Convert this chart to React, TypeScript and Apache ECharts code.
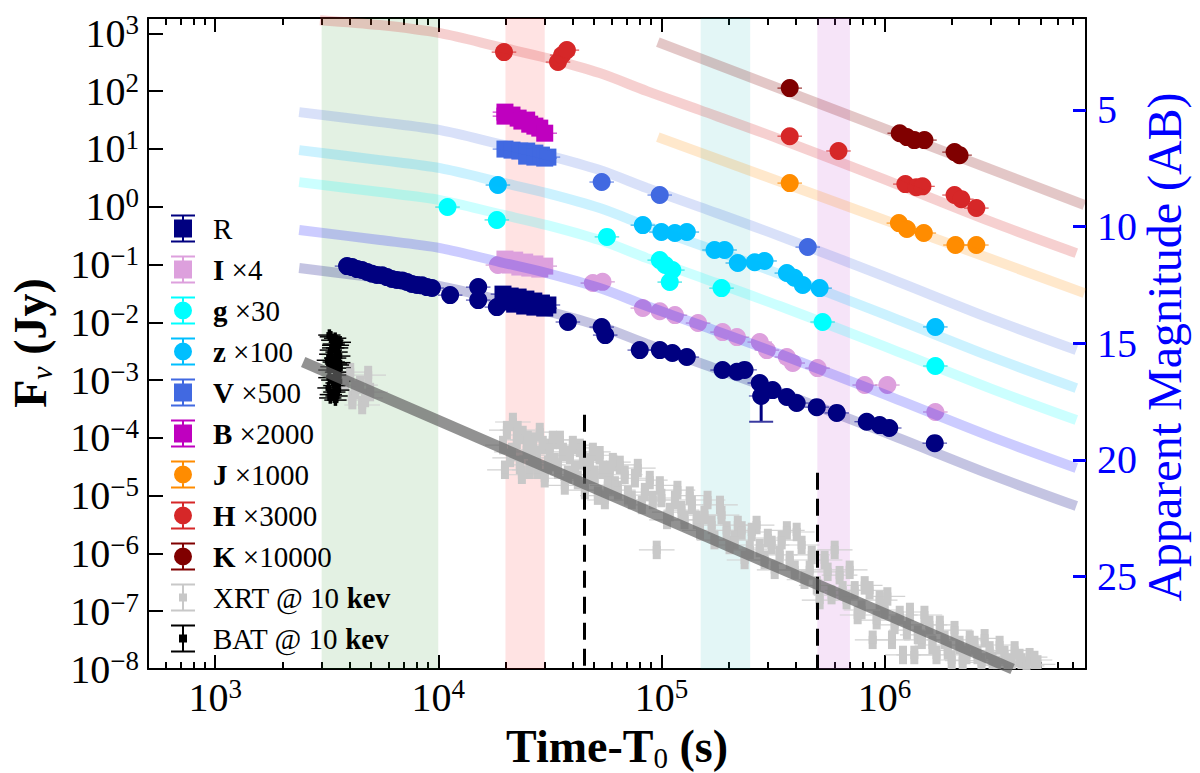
import React, { useEffect, useRef } from 'react';
import * as echarts from 'echarts';

const FONT = '"Liberation Serif", "Times New Roman", serif';
const lg = Math.log10;

// ---------- axes ----------
const X_MIN = 500;
const X_MAX = 8e6;
const Y_MIN = 1e-8;
const Y_MAX = 1841;
const MAG_TOP = 1.057;
const MAG_BOTTOM = 28.96;
const xTickPowers = [3, 4, 5, 6];
const yTickPowers = [-8, -7, -6, -5, -4, -3, -2, -1, 0, 1, 2, 3];
const magTicks = [5, 10, 15, 20, 25];

// ---------- shaded intervals & dashed markers ----------
const bandRanges = [[3000, 10000], [20000, 30000], [150000, 250000], [500000, 700000]];
const bandColors = ['rgba(0,128,0,0.11)', 'rgba(255,0,0,0.11)', 'rgba(0,170,170,0.11)', 'rgba(200,90,210,0.16)'];
const dashTimes = [45000, 500000];
const dashTops = [2.5e-4, 2.5e-5];

// ---------- optical / NIR data (flux already scaled) ----------
const R_t = [3900, 4110, 4330, 4550, 4800, 5050, 5310, 5600, 5890, 6200, 6530, 6880, 7240, 7620, 8030, 8450, 8900, 9370, 11300, 15100, 15100, 18300, 38100, 54000, 56000, 80000, 98400, 112000, 130000, 188000, 218000, 236000, 276000, 280000, 315000, 365000, 404000, 497000, 611000, 832000, 951000, 1050000, 1680000];
const R_f = [0.0937, 0.09, 0.0832, 0.08, 0.0739, 0.069, 0.0656, 0.065, 0.0605, 0.056, 0.0537, 0.053, 0.0496, 0.046, 0.044, 0.0435, 0.0406, 0.0391, 0.0295, 0.0406, 0.0242, 0.0183, 0.0101, 0.00826, 0.006, 0.0033, 0.0033, 0.00293, 0.0025, 0.00149, 0.00139, 0.0015, 0.00089, 0.00053, 0.00067, 0.00051, 0.0004, 0.00034, 0.00027, 0.00019, 0.000166, 0.000148, 0.000081];
const RS_t = [19500, 21000, 22800, 24700, 26800, 29000, 31000, 19900, 22000, 24400, 27100, 30000];
const RS_f = [0.0307, 0.0284, 0.0273, 0.0252, 0.0233, 0.0215, 0.0199, 0.0224, 0.0206, 0.0191, 0.0183, 0.0176];
const R_bigErr_t = [280000];
const R_bigErr_f = [0.00053];
const R_bigErr_lo = [0.00019];

const IS_t = [19900, 22000, 24400, 27100, 30000, 21000, 23200, 25700, 28500];
const IS_f = [0.124, 0.119, 0.11, 0.102, 0.0937, 0.0977, 0.0902, 0.0867, 0.0832];
const I_t = [18500, 49300, 54500, 82600, 98300, 115000, 146000, 188000, 218000, 276000, 297000, 365000, 388000, 501000, 815000, 1030000, 1690000];
const I_f = [0.0977, 0.0477, 0.05, 0.0176, 0.0155, 0.0133, 0.0097, 0.00676, 0.00554, 0.00454, 0.0033, 0.0025, 0.00197, 0.00161, 0.00082, 0.00082, 0.00028];

const g_t = [11000, 18300, 57000, 98300, 104000, 112000, 109000, 186000, 528000, 1690000];
const g_f = [0.985, 0.59, 0.3, 0.119, 0.098, 0.08, 0.0496, 0.039, 0.0101, 0.00175];

const z_t = [18500, 82600, 100000, 115000, 130000, 173000, 192000, 220000, 262000, 290000, 365000, 395000, 430000, 512000, 1690000];
const z_f = [2.37, 0.48, 0.364, 0.35, 0.364, 0.178, 0.178, 0.106, 0.109, 0.115, 0.071, 0.059, 0.044, 0.039, 0.0083];

const VS_t = [19900, 21400, 23200, 24900, 24900, 27100, 27100, 29000, 30000, 31000];
const VS_f = [9.93, 9.53, 9.17, 9.17, 7.5, 8.46, 7.21, 7.81, 6.93, 7.21];
const V_t = [54000, 98300, 453000];
const V_f = [2.67, 1.59, 0.2];

const B_t = [19900, 19900, 21400, 22800, 23700, 24900, 25700, 27100, 28500, 30000];
const B_f = [43.3, 36.9, 38.5, 34.1, 30.3, 31.5, 26.8, 24.8, 22.9, 18.7];

const J_t = [376000, 1160000, 1260000, 1500000, 2080000, 2580000];
const J_f = [2.56, 0.52, 0.41, 0.35, 0.217, 0.217];

const H_t = [19700, 34400, 35900, 37700, 376000, 622000, 1240000, 1390000, 1480000, 2060000, 2210000, 2580000];
const H_f = [473, 318, 420, 512, 16.6, 9.2, 2.46, 2.18, 2.25, 1.59, 1.35, 0.946];

const K_t = [376000, 1170000, 1260000, 1360000, 1510000, 2060000, 2170000];
const K_f = [112.7, 18.7, 16, 14.2, 14.2, 8.8, 7.8];

// ---------- X-ray / gamma ----------
const XRT_t = [
  3820, 4030, 4120, 4240, 4460, 4560, 4700, 4850, 4950,
  19500, 20300, 21000, 21600, 22500, 23200, 23900, 24900, 25700, 26600, 27700, 28500,
  30000, 31600, 33300, 35100, 36900, 38900, 41000, 43100, 45400, 47800, 50300, 52900,
  55800, 58700, 61900, 65100, 70800, 76100, 81700, 88700, 95300,
  100000, 109000, 118000, 127000, 137000, 149000, 161000, 173000, 186000,
  202000, 220000, 236000, 254000, 276000, 300000, 322000, 346000, 376000,
  404000, 438000, 472000, 512000, 556000, 598000, 649000, 698000, 758000,
  815000, 885000, 951000, 1030000, 1110000, 1210000, 1300000, 1410000, 1510000,
  1640000, 1770000, 1920000, 2060000, 2240000, 2410000, 2610000, 2810000, 3050000,
  3280000, 3560000, 3830000, 4110000, 4470000, 4850000,
  19900, 21400, 22700, 23700, 25200, 26300, 27900, 29400, 31000, 32600,
  34400, 36200, 38100, 40100, 42200, 44500, 46800, 49300, 51900, 54700,
  57500, 60600, 63800, 68500, 73700, 78400, 84300, 91500, 98400, 106000,
  115000, 123000, 134000, 144000, 156000, 168000, 183000, 196000, 213000, 229000,
  249000, 267000, 290000, 312000, 339000, 365000, 396000, 425000, 462000, 497000,
  539000, 579000, 629000, 676000, 735000, 789000, 857000, 922000, 1000000, 1080000,
  1170000, 1260000, 1360000, 1470000, 1590000, 1710000, 1860000, 2000000, 2170000, 2330000,
  2530000, 2720000, 2960000, 3180000, 3450000, 3710000, 4030000, 4330000, 4700000,
];
const XRT_f = [
  1.0e-3, 1.37e-3, 4.5e-4, 6.7e-4, 8.2e-4, 3.7e-4, 4.9e-4, 1.22e-3, 6.2e-4,
  7.5e-5, 1.36e-4, 4.5e-5, 1.88e-4, 9.2e-5, 3.4e-5, 1.12e-4, 6.2e-5, 2.8e-5, 8.5e-5, 5.0e-5, 1.26e-4,
  2.0e-5, 6.7e-5, 3.8e-5, 9.2e-5, 1.5e-5, 5.0e-5, 2.8e-5, 6.7e-5, 1.25e-5, 3.8e-5, 2.3e-5, 5.0e-5,
  8.4e-6, 2.8e-5, 1.5e-5, 3.4e-5, 1.02e-5, 2.0e-5, 6.9e-6, 1.86e-5, 1.15e-6,
  9.1e-6, 5.2e-6, 1.25e-5, 3.8e-6, 6.9e-6, 2.5e-6, 8.4e-6, 1.7e-6, 4.6e-6,
  1.4e-6, 3.1e-6, 7.7e-7, 2.35e-6, 1.24e-6, 1.85e-6, 5.2e-7, 1.7e-6, 7.7e-7,
  2.35e-6, 3.5e-7, 9.4e-7, 1.56e-7, 4.8e-7, 1.15e-6, 2.3e-7, 5.2e-7, 8.6e-8,
  2.8e-7, 3.2e-8, 1.56e-7, 1.8e-7, 5.8e-8, 1.75e-8, 9.7e-8, 3.9e-8, 8.6e-8,
  2.6e-8, 5.8e-8, 2.1e-8, 4.7e-8, 1.4e-8, 3.2e-8, 1.75e-8, 3.4e-8, 1.4e-8,
  2.6e-8, 1.3e-8, 2.1e-8, 1.3e-8, 1.6e-8, 1.2e-8,
  2.8e-5, 5.7e-5, 1.36e-4, 2.3e-5, 9.2e-5, 4.5e-5, 2.8e-5, 7.5e-5, 3.4e-5, 9.2e-5,
  2.8e-5, 5.7e-5, 2.3e-5, 7.5e-5, 1.86e-5, 4.1e-5, 2.3e-5, 5.7e-5, 1.0e-5, 2.8e-5,
  1.5e-5, 3.8e-5, 1.25e-5, 2.3e-5, 8.4e-6, 3.0e-5, 1.15e-5, 8.4e-6, 1.5e-5, 3.8e-6,
  8.4e-6, 5.6e-6, 1.0e-5, 3.8e-6, 4.6e-6, 3.1e-6, 6.9e-6, 2.5e-6, 1.7e-6, 2.5e-6,
  1.15e-6, 3.1e-6, 7.7e-7, 1.4e-6, 9.4e-7, 2.5e-6, 5.2e-7, 1.4e-6, 5.2e-7, 2.8e-7,
  7.7e-7, 1.9e-7, 4.2e-7, 1.56e-7, 2.3e-7, 1.05e-7, 2.3e-7, 7.0e-8, 1.05e-7, 3.2e-8,
  8.6e-8, 4.7e-8, 1.75e-8, 3.2e-8, 5.8e-8, 1.75e-8, 3.2e-8, 1.43e-8, 2.6e-8, 1.75e-8,
  2.6e-8, 1.3e-8, 2.1e-8, 1.17e-8, 1.75e-8, 1.17e-8, 1.55e-8, 1.13e-8, 1.43e-8,
];
const BAT_t = [3250, 3350, 3450, 3550, 3620, 3300, 3500, 3600, 3200, 3400, 3550, 3250, 3480, 3620, 3350, 3500, 3220, 3420, 3560, 3280, 3460, 3380, 3580,
  3300, 3400, 3520, 3280, 3450, 3600, 3320, 3530, 3250, 3420, 3600, 3300, 3500, 3380, 3480];
const BAT_f = [6.0e-3, 4.9e-3, 5.3e-3, 4.0e-3, 4.5e-3, 3.3e-3, 3.05e-3, 2.6e-3, 2.2e-3, 2.05e-3, 1.82e-3, 1.49e-3, 1.37e-3, 1.61e-3, 1.0e-3, 8.9e-4, 7.3e-4, 6.2e-4, 6.7e-4, 4.9e-4, 4.5e-4, 4.0e-3, 1.22e-3,
  5.6e-3, 4.2e-3, 3.6e-3, 2.8e-3, 2.4e-3, 2.0e-3, 1.7e-3, 1.15e-3, 1.1e-3, 8.0e-4, 9.5e-4, 5.6e-4, 5.3e-4, 3.6e-3, 1.9e-3];

// ---------- model curves ----------
const fit_t = [2380, 5480, 10200, 18900, 30700, 52900, 86100, 149000, 339000, 1000000, 3000000, 7240000];
const V_line = [43.3, 29.1, 21.1, 12.1, 7.81, 4.3, 2.1, 0.984, 0.31, 0.0622, 0.01153, 0.0033];
const z_line = [9.53, 6.4, 4.64, 2.66, 1.72, 0.946, 0.462, 0.216, 0.0682, 0.01368, 0.002537, 0.000726];
const g_line = [2.66, 1.79, 1.3, 0.744, 0.48, 0.264, 0.129, 0.0605, 0.0191, 0.003825, 0.000709, 0.000203];
const I_line = [0.394, 0.265, 0.192, 0.11, 0.071, 0.0391, 0.0191, 0.00894, 0.00282, 0.000565, 0.0001048, 0.00003];
const R_line = [0.0866, 0.0582, 0.0422, 0.0242, 0.0156, 0.0086, 0.0042, 0.00197, 0.00062, 0.0001244, 0.00002306, 0.0000066];
const H_line_t = [2950, 5480, 10200, 18900, 30700, 52900, 86100, 149000, 339000, 1000000, 3000000, 7240000];
const H_line = [1690, 1388, 1006, 577, 373, 205, 100, 46.9, 14.8, 2.967, 0.55, 0.157];
const K_line_t = [96400, 7870000];
const K_line = [705, 1.07];
const J_line_t = [96400, 7870000];
const J_line = [16.0, 0.032];
const XRT_line_t = [2480, 3750000];
const XRT_line = [2.05e-3, 1.0e-8];

// ---------- helpers ----------
const pts = (t: number[], f: number[]) => t.map((v, i) => [lg(v), lg(f[i])]);
const supTxt = (n: number) => (n < 0 ? '\u2212' + Math.abs(n) : String(n));
const powLabel = (v: number) => `{b|10}{s|${supTxt(Math.round(v))}}`;
const powRich = {
  b: { fontFamily: FONT, fontSize: 40, lineHeight: 44, color: '#000' },
  s: { fontFamily: FONT, fontSize: 27, lineHeight: 32, verticalAlign: 'top', color: '#000' },
};

const xMinor: number[] = [];
for (let p = 2; p <= 6; p++) {
  for (let m = 2; m <= 9; m++) {
    const v = m * Math.pow(10, p);
    if (v >= X_MIN && v <= X_MAX * 1.0001) xMinor.push(lg(v));
  }
}

function scat(name: string, t: number[], f: number[], color: string, symbol: string, size: number, z: number, opacity = 1) {
  return {
    type: 'scatter', name, data: pts(t, f), symbol, symbolSize: size, z, silent: true, clip: true,
    itemStyle: { color, opacity },
  };
}

function fit(t: number[], f: number[], color: string, width: number, z = 6) {
  return {
    type: 'line', name: '_fit', data: pts(t, f), smooth: 0.3, symbol: 'none', showSymbol: false,
    silent: true, clip: true, z, lineStyle: { color, width, cap: 'butt' },
  };
}

type EB = { color: string; dx: number; dy: number; wx: number; wy: number; z: number };
function errBars(t: number[], f: number[], o: EB) {
  return {
    type: 'custom', name: '_err', silent: true, z: o.z, clip: true,
    data: pts(t, f),
    renderItem: (_p: any, api: any) => {
      const x = api.value(0);
      const y = api.value(1);
      const c = api.coord([x, y]);
      const children: any[] = [];
      if (o.dx > 0) {
        const l = api.coord([x - o.dx, y]);
        const r = api.coord([x + o.dx, y]);
        children.push({ type: 'line', shape: { x1: l[0], y1: c[1], x2: r[0], y2: c[1] }, style: { stroke: o.color, lineWidth: o.wx } });
      }
      if (o.dy > 0) {
        const a = api.coord([x, y + o.dy]);
        const b = api.coord([x, y - o.dy]);
        children.push({ type: 'line', shape: { x1: c[0], y1: a[1], x2: c[0], y2: b[1] }, style: { stroke: o.color, lineWidth: o.wy } });
      }
      return { type: 'group', children };
    },
  };
}

const ICON_SQ = 'path://M0,0H24V2H0Z M11,2H13V5H11Z M3,5H21V23H3Z M11,23H13V26H11Z M0,26H24V28H0Z';
const ICON_CI = 'path://M0,0H24V2H0Z M11,2H13V5H11Z M3,14A9,9 0 1 1 21,14A9,9 0 1 1 3,14Z M11,23H13V26H11Z M0,26H24V28H0Z';
const ICON_PT = 'path://M0,0H24V2H0Z M11,2H13V10H11Z M8,10H16V18H8Z M11,18H13V26H11Z M0,26H24V28H0Z';

const legendNames = ['R', 'I \u00d74', 'g \u00d730', 'z \u00d7100', 'V \u00d7500', 'B \u00d72000', 'J \u00d71000', 'H \u00d73000', 'K \u00d710000', 'XRT @ 10 kev', 'BAT @ 10 kev'];
const legendIcons = [ICON_SQ, ICON_SQ, ICON_CI, ICON_CI, ICON_SQ, ICON_SQ, ICON_CI, ICON_CI, ICON_CI, ICON_PT, ICON_PT];

const C = {
  R: '#000080', I: '#dda0dd', g: '#00ffff', z: '#00bfff', V: '#4169e1', B: '#bf00bf',
  J: '#ff8c00', H: '#d62728', K: '#800000', XRT: '#c8c8c8', BAT: '#000000',
};

function buildOption() {
  const xAxisBase = { type: 'value', min: lg(X_MIN), max: lg(X_MAX), splitLine: { show: false } };
  const series: any[] = [];

  series.push({
    type: 'line', name: '_bands', data: [[lg(X_MIN), lg(Y_MIN)]], symbol: 'none', silent: true, z: 0,
    lineStyle: { width: 0, opacity: 0 },
    markArea: {
      silent: true,
      data: bandRanges.map(([a, b], i) => [{ xAxis: lg(a), itemStyle: { color: bandColors[i] } }, { xAxis: lg(b) }]),
    },
  });

  series.push(errBars(XRT_t, XRT_f, { color: '#d2d2d2', dx: 0.08, dy: 0, wx: 1.2, wy: 0, z: 1 }));
  series.push(errBars(XRT_t, XRT_f, { color: '#c8c8c8', dx: 0, dy: 0.16, wx: 0, wy: 8, z: 1 }));
  series.push(scat('XRT @ 10 kev', XRT_t, XRT_f, C.XRT, 'rect', 8, 2));
  series.push(errBars(BAT_t, BAT_f, { color: '#000', dx: 0.05, dy: 0.1, wx: 1.5, wy: 3.5, z: 2 }));
  series.push(scat('BAT @ 10 kev', BAT_t, BAT_f, C.BAT, 'rect', 6, 3));

  const opt: [number[], number[], string][] = [
    [R_t, R_f, 'rgba(40,40,160,0.8)'], [RS_t, RS_f, 'rgba(40,40,160,0.8)'],
    [I_t, I_f, 'rgba(200,130,200,0.8)'], [IS_t, IS_f, 'rgba(200,130,200,0.8)'],
    [g_t, g_f, 'rgba(0,220,220,0.8)'], [z_t, z_f, 'rgba(0,160,230,0.8)'],
    [V_t, V_f, 'rgba(65,105,225,0.8)'], [VS_t, VS_f, 'rgba(65,105,225,0.8)'],
    [B_t, B_f, 'rgba(190,0,190,0.8)'], [J_t, J_f, 'rgba(255,140,0,0.8)'],
    [H_t, H_f, 'rgba(214,39,40,0.8)'], [K_t, K_f, 'rgba(128,0,0,0.8)'],
  ];
  opt.forEach(([t, f, c]) => series.push(errBars(t, f, { color: c, dx: 0.055, dy: 0, wx: 1.2, wy: 0, z: 3 })));

  series.push({
    type: 'custom', name: '_bigerr', silent: true, z: 3, clip: true,
    data: R_bigErr_t.map((v, i) => [lg(v), lg(R_bigErr_f[i]), lg(R_bigErr_lo[i])]),
    renderItem: (_p: any, api: any) => {
      const c = api.coord([api.value(0), api.value(1)]);
      const b = api.coord([api.value(0), api.value(2)]);
      return {
        type: 'group',
        children: [
          { type: 'line', shape: { x1: c[0], y1: c[1], x2: c[0], y2: b[1] }, style: { stroke: C.R, lineWidth: 3 } },
          { type: 'line', shape: { x1: c[0] - 12, y1: b[1], x2: c[0] + 12, y2: b[1] }, style: { stroke: '#3a3aa0', lineWidth: 2 } },
        ],
      };
    },
  });

  series.push(scat('R', R_t, R_f, C.R, 'circle', 18, 4));
  series.push(scat('R', RS_t, RS_f, C.R, 'rect', 17, 4));
  series.push(scat('I \u00d74', IS_t, IS_f, C.I, 'rect', 17, 4));
  series.push(scat('I \u00d74', I_t, I_f, C.I, 'circle', 18, 4));
  series.push(scat('g \u00d730', g_t, g_f, C.g, 'circle', 18, 4));
  series.push(scat('z \u00d7100', z_t, z_f, C.z, 'circle', 18, 4));
  series.push(scat('V \u00d7500', VS_t, VS_f, C.V, 'rect', 17, 4));
  series.push(scat('V \u00d7500', V_t, V_f, C.V, 'circle', 18, 4));
  series.push(scat('B \u00d72000', B_t, B_f, C.B, 'rect', 17, 4));
  series.push(scat('J \u00d71000', J_t, J_f, C.J, 'circle', 18, 4));
  series.push(scat('H \u00d73000', H_t, H_f, C.H, 'circle', 18, 4));
  series.push(scat('K \u00d710000', K_t, K_f, C.K, 'circle', 18, 4));

  series.push(fit(H_line_t, H_line, 'rgba(214,39,40,0.22)', 10));
  series.push(fit(K_line_t, K_line, 'rgba(128,0,0,0.22)', 10));
  series.push(fit(J_line_t, J_line, 'rgba(255,140,0,0.2)', 10));
  series.push(fit(fit_t, V_line, 'rgba(65,105,225,0.2)', 10));
  series.push(fit(fit_t, z_line, 'rgba(0,191,255,0.2)', 10));
  series.push(fit(fit_t, g_line, 'rgba(0,255,255,0.2)', 10));
  series.push(fit(fit_t, I_line, 'rgba(0,0,255,0.2)', 10));
  series.push(fit(fit_t, R_line, 'rgba(0,0,128,0.23)', 10));
  series.push(fit(XRT_line_t, XRT_line, 'rgba(100,100,100,0.7)', 11));

  series.push({
    type: 'line', name: '_dash', data: [[lg(X_MIN), lg(Y_MIN)]], symbol: 'none', silent: true, z: 8,
    lineStyle: { width: 0, opacity: 0 },
    markLine: {
      silent: true, symbol: ['none', 'none'], label: { show: false },
      lineStyle: { color: '#000', width: 3, type: [17, 9] },
      data: dashTimes.map((t, i) => [{ coord: [lg(t), lg(dashTops[i])] }, { coord: [lg(t), lg(Y_MIN)] }]),
    },
  });

  return {
    animation: false,
    backgroundColor: '#fff',
    grid: { left: 148, right: 114, top: 18, bottom: 104, containLabel: false, outerBoundsMode: 'none' },
    legend: {
      orient: 'vertical', left: 171, top: 214, padding: 0,
      itemWidth: 24, itemHeight: 28, itemGap: 12, selectedMode: false,
      data: legendNames.map((n, i) => ({ name: n, icon: legendIcons[i] })),
      formatter: (name: string) => {
        if (name === 'R') return '{n|R}';
        if (name.startsWith('XRT') || name.startsWith('BAT')) return `{n|${name.replace(' kev', ' ')}}{b|kev}`;
        const sp = name.indexOf(' ');
        return `{b|${name.slice(0, sp)}}{n| ${name.slice(sp + 1)}}`;
      },
      textStyle: {
        fontFamily: FONT, fontSize: 29, color: '#000', padding: [0, 0, 0, 13],
        rich: {
          n: { fontFamily: FONT, fontSize: 29, lineHeight: 30, color: '#000' },
          b: { fontFamily: FONT, fontSize: 29, lineHeight: 30, fontWeight: 'bold', color: '#000' },
        },
      },
    },
    xAxis: [
      {
        ...xAxisBase, position: 'bottom',
        axisLine: { show: true, onZero: false, lineStyle: { color: '#000', width: 2 } },
        axisTick: { show: true, inside: true, length: 14, customValues: xTickPowers, lineStyle: { color: '#000', width: 2 } },
        axisLabel: { show: true, customValues: xTickPowers, formatter: powLabel, rich: powRich, margin: 6 },
      },
      {
        ...xAxisBase, position: 'bottom',
        axisLine: { show: false, onZero: false },
        axisTick: { show: true, inside: true, length: 7, customValues: xMinor, lineStyle: { color: '#000', width: 2 } },
        axisLabel: { show: false },
      },
      {
        ...xAxisBase, position: 'top',
        axisLine: { show: true, onZero: false, lineStyle: { color: '#000', width: 2 } },
        axisTick: { show: true, inside: true, length: 14, customValues: xTickPowers, lineStyle: { color: '#000', width: 2 } },
        axisLabel: { show: false },
      },
      {
        ...xAxisBase, position: 'top',
        axisLine: { show: false, onZero: false },
        axisTick: { show: true, inside: true, length: 7, customValues: xMinor, lineStyle: { color: '#000', width: 2 } },
        axisLabel: { show: false },
      },
    ],
    yAxis: [
      {
        type: 'value', position: 'left', min: lg(Y_MIN), max: lg(Y_MAX), splitLine: { show: false },
        axisLine: { show: true, onZero: false, lineStyle: { color: '#000', width: 2 } },
        axisTick: { show: true, inside: true, length: 15, customValues: yTickPowers, lineStyle: { color: '#000', width: 2 } },
        axisLabel: { show: true, customValues: yTickPowers, formatter: powLabel, rich: powRich, margin: 9 },
      },
      {
        type: 'value', position: 'right', inverse: true, min: MAG_TOP, max: MAG_BOTTOM, splitLine: { show: false },
        axisLine: { show: true, onZero: false, lineStyle: { color: '#000', width: 2 } },
        axisTick: { show: true, inside: true, length: 13, customValues: magTicks, lineStyle: { color: '#0000ff', width: 3 } },
        axisLabel: { show: true, customValues: magTicks, color: '#0000ff', fontFamily: FONT, fontSize: 40, margin: 11 },
      },
    ],
    graphic: [
      {
        type: 'text', x: 617, y: 746, silent: true,
        style: {
          text: '{t|Time-T}{sub|0}{t| (s)}', align: 'center', verticalAlign: 'middle',
          rich: {
            t: { fontFamily: FONT, fontSize: 46, fontWeight: 'bold', lineHeight: 52, fill: '#000', color: '#000' },
            sub: { fontFamily: FONT, fontSize: 29, lineHeight: 30, verticalAlign: 'bottom', fill: '#000', color: '#000' },
          },
        },
      },
      {
        type: 'text', x: 30, y: 343, rotation: Math.PI / 2, silent: true,
        style: {
          text: '{t|F}{sub|\u03bd}{t| (Jy)}', align: 'center', verticalAlign: 'middle',
          rich: {
            t: { fontFamily: FONT, fontSize: 46, fontWeight: 'bold', lineHeight: 52, fill: '#000', color: '#000' },
            sub: { fontFamily: FONT, fontSize: 30, fontStyle: 'italic', lineHeight: 30, verticalAlign: 'bottom', fill: '#000', color: '#000' },
          },
        },
      },
      {
        type: 'text', x: 1164, y: 347, rotation: Math.PI / 2, silent: true,
        style: {
          text: 'Apparent Magnitude (AB)', align: 'center', verticalAlign: 'middle',
          fontFamily: FONT, fontSize: 48, fill: '#0000ff',
        },
      },
    ],
    series,
  };
}

export default function App() {
  const ref = useRef<HTMLDivElement>(null);
  useEffect(() => {
    if (!ref.current) return;
    const chart = echarts.init(ref.current, null, { renderer: 'svg' });
    chart.setOption(buildOption() as any);
    return () => chart.dispose();
  }, []);
  return <div ref={ref} style={{ position: 'fixed', left: 0, top: 0, width: 1200, height: 773, background: '#fff' }} />;
}
